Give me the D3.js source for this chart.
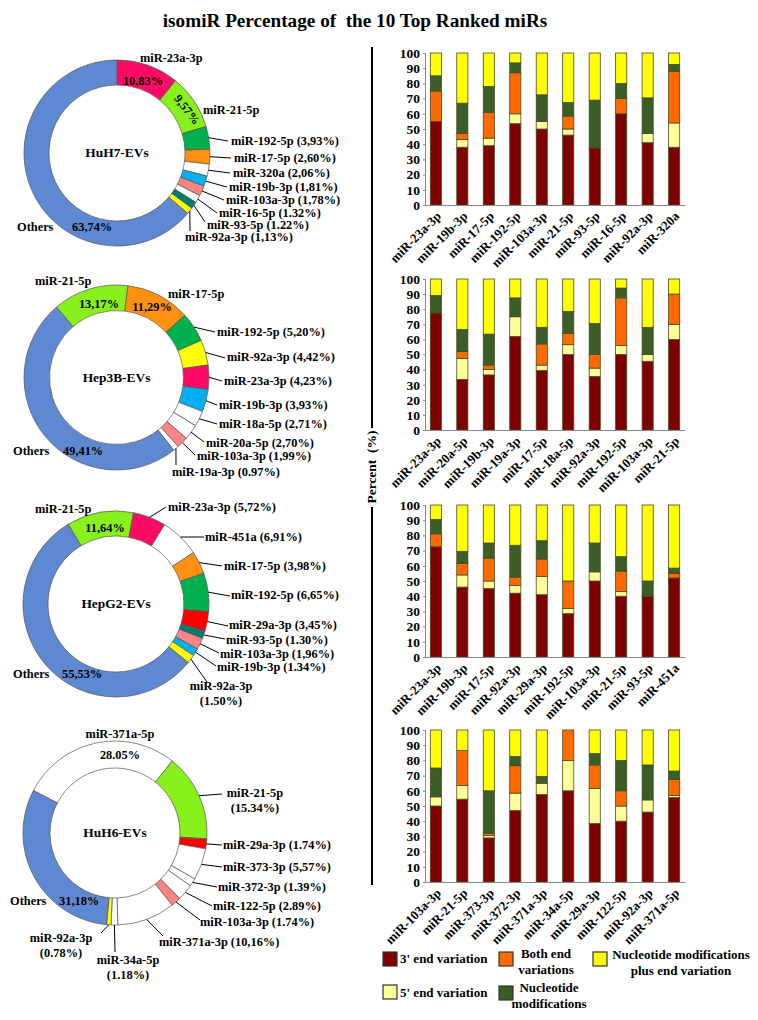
<!DOCTYPE html>
<html><head><meta charset="utf-8">
<script src="https://cdn.jsdelivr.net/npm/d3@7"></script>
<style>
body{margin:0;background:#fff}
svg text{font-family:"Liberation Serif","Times New Roman",serif;font-weight:bold;fill:#000}
</style>
</head><body>
<svg id="c" width="758" height="1020"></svg>
<script>
// ---------------- DATA ----------------
// Donut data (percent of reads)
const huh7Names  = ["miR-23a-3p","miR-21-5p","miR-192-5p","miR-17-5p","miR-320a","miR-19b-3p","miR-103a-3p","miR-16-5p","miR-93-5p","miR-92a-3p","Others"];
const huh7Values = [10.83,9.57,3.93,2.60,2.06,1.81,1.78,1.32,1.22,1.13,63.74];
const huh7Pct    = ["10,83%","9,57%","3,93%","2,60%","2,06%","1,81%","1,78%","1.32%","1.22%","1,13%","63,74%"];

const hep3bNames  = ["miR-17-5p","miR-192-5p","miR-92a-3p","miR-23a-3p","miR-19b-3p","miR-18a-5p","miR-20a-5p","miR-103a-3p","miR-19a-3p","Others","miR-21-5p"];
const hep3bValues = [11.29,5.20,4.42,4.23,3.93,2.71,2.70,1.99,0.97,49.41,13.17];
const hep3bPct    = ["11,29%","5,20%","4,42%","4,23%","3,93%","2,71%","2,70%","1,99%","0.97%","49,41%","13,17%"];

const hepg2Names  = ["miR-21-5p","miR-23a-3p","miR-451a","miR-17-5p","miR-192-5p","miR-29a-3p","miR-93-5p","miR-103a-3p","miR-19b-3p","miR-92a-3p","Others"];
const hepg2Values = [11.64,5.72,6.91,3.98,6.65,3.45,1.30,1.96,1.34,1.50,55.53];
const hepg2Pct    = ["11,64%","5,72%","6,91%","3,98%","6,65%","3,45%","1.30%","1,96%","1.34%","1.50%","55,53%"];

const huh6Names  = ["miR-371a-5p","miR-21-5p","miR-29a-3p","miR-373-3p","miR-372-3p","miR-122-5p","miR-103a-3p","miR-371a-3p","miR-34a-5p","miR-92a-3p","Others"];
const huh6Values = [28.05,15.34,1.74,5.57,1.39,2.89,1.74,10.16,1.18,0.78,31.18];
const huh6Pct    = ["28.05%","15.34%","1.74%","5,57%","1.39%","2.89%","1.74%","10,16%","1.18%","0.78%","31,18%"];

// Stacked bar data (percent of isomiRs)
const seriesNames = ["3' end variation","5' end variation","Both end variations","Nucleotide modifications","Nucleotide modifications plus end variation"];

const huh7BarCats = ["miR-23a-3p","miR-19b-3p","miR-17-5p","miR-192-5p","miR-103a-3p","miR-21-5p","miR-93-5p","miR-16-5p","miR-92a-3p","miR-320a"];
const huh7End3   = [55,38,39,53.5,50,46,37.5,60,41,38];
const huh7End5   = [0,5,5,6.5,5,4,0,0,6,16];
const huh7Both   = [20,4,17,27,0,8.5,0,10,0,34];
const huh7Nuc    = [10,20,17,6.5,17.5,9,31.5,10,23.5,4.5];
const huh7NucEnd = [15,33,22,6.5,27.5,32.5,31,20,29.5,7.5];

const hep3bBarCats = ["miR-23a-3p","miR-20a-5p","miR-19b-3p","miR-19a-3p","miR-17-5p","miR-18a-5p","miR-92a-3p","miR-192-5p","miR-103a-3p","miR-21-5p"];
const hep3bEnd3   = [77.5,33.5,36.5,62,39.5,50,35.5,50,45.5,60];
const hep3bEnd5   = [0,14,3.5,13,3.5,6.5,5.5,6,4.5,10];
const hep3bBoth   = [0,4.5,3,0,14,7.5,9,31.5,0,20];
const hep3bNuc    = [11.5,14.5,20.5,12.5,11,14.5,20.5,6.5,18,0];
const hep3bNucEnd = [11,33.5,36.5,12.5,32,21.5,29.5,6,32,10];

const hepg2BarCats = ["miR-23a-3p","miR-19b-3p","miR-17-5p","miR-92a-3p","miR-29a-3p","miR-192-5p","miR-103a-3p","miR-21-5p","miR-93-5p","miR-451a"];
const hepg2End3   = [72.5,46,45,42,41,28.5,50,40,40,52];
const hepg2End5   = [0,8,5,5,12,3.5,6,3,0,0];
const hepg2Both   = [8.5,7.5,15,5.5,11.5,18,0,13.5,0,3];
const hepg2Nuc    = [9.5,8,10,21,12,0,19,9.5,10,3.5];
const hepg2NucEnd = [9.5,30.5,25,26.5,23.5,50,25,34,50,41.5];

const huh6BarCats = ["miR-103a-3p","miR-21-5p","miR-373-3p","miR-372-3p","miR-371a-3p","miR-34a-5p","miR-29a-3p","miR-122-5p","miR-92a-3p","miR-371a-5p"];
const huh6End3   = [50,54.5,29,47,57.5,60,38.5,40,46,55.5];
const huh6End5   = [6,9,1.5,11.5,7.5,20,23,10,8,1.5];
const huh6Both   = [0,23,1.5,18,0,20,15.5,10,0,10.5];
const huh6Nuc    = [19,0,28,6,4.5,0,7.5,20,23,5.5];
const huh6NucEnd = [25,13.5,40,17.5,30.5,0,15.5,20,23,27];

const yTicks = [0,10,20,30,40,50,60,70,80,90,100];

// ---------------- STYLE / LAYOUT ----------------
const sliceColors = {"miR-23a-3p":"#fc0a66","miR-21-5p":"#88f11c","miR-192-5p":"#00b04e","miR-17-5p":"#ff9010",
  "miR-19b-3p":"#00b0f0","miR-103a-3p":"#ff8585","miR-93-5p":"#007c72","miR-92a-3p":"#ffff00",
  "miR-29a-3p":"#ff0000","Others":"#5f88d2"};
const seriesColors = ["#7f0000","#ffff9a","#ff6a00","#3a5e26","#ffff00"];

const svg = d3.select("#c");
const FS = 12;

// calibrate label width: reference "miR-192-5p (3,93%)" spans ~108px
const cal = svg.append("text").style("font-size",FS+"px").text("miR-192-5p (3,93%)");
let SX = 108/cal.node().getComputedTextLength();
if(!isFinite(SX)||SX<0.6||SX>1.2) SX = 1;
cal.remove();

// title
svg.append("text").attr("x",355).attr("y",27).attr("text-anchor","middle")
  .style("font-size","19.2px").style("white-space","pre").text("isomiR Percentage of  the 10 Top Ranked miRs");

// ---------- donuts ----------
function donut(cfg){
  const g = svg.append("g");
  const pie = d3.pie().sort(null).value(d=>d)
     .startAngle(cfg.start*Math.PI/180).endAngle(cfg.start*Math.PI/180+2*Math.PI);
  const arcs = pie(cfg.values);
  const arc = d3.arc().innerRadius(cfg.r).outerRadius(cfg.R);
  g.selectAll("path").data(arcs).join("path")
    .attr("transform",`translate(${cfg.cx},${cfg.cy})`)
    .attr("d",arc)
    .attr("fill",(d,i)=>sliceColors[cfg.names[i]]||"#ffffff")
    .attr("stroke","#555").attr("stroke-width",0.7);
  g.append("text").attr("transform",`translate(${cfg.cx},${cfg.cy+4}) scale(${SX},1)`).attr("text-anchor","middle")
    .style("font-size","13px").text(cfg.title);
  cfg.labels.forEach(l=>{
    const a = arcs[l.i];
    if(l.lx!==undefined){
      const m = (a.startAngle+a.endAngle)/2;
      g.append("line")
        .attr("x1",cfg.cx+cfg.R*Math.sin(m)).attr("y1",cfg.cy-cfg.R*Math.cos(m))
        .attr("x2",l.lx).attr("y2",l.ly).attr("stroke","#000").attr("stroke-width",1);
    }
    const txt = l.text(cfg);
    const t = g.append("text").attr("text-anchor",l.anchor||"start").style("font-size",FS+"px")
      .attr("transform",`translate(${l.x},${l.y}) rotate(${l.rot||0}) scale(${SX},1)`);
    if(Array.isArray(txt)){
      txt.forEach((s,k)=>t.append("tspan").attr("x",0).attr("y",k*15.5).text(s));
    } else t.text(txt);
  });
}
const nm = i=>c=>c.names[i];
const pc = i=>c=>c.pct[i];
const full = i=>c=>`${c.names[i]} (${c.pct[i]})`;
const two = i=>c=>[c.names[i],`(${c.pct[i]})`];

donut({cx:117,cy:153,R:93,r:68,start:0,title:"HuH7-EVs",names:huh7Names,values:huh7Values,pct:huh7Pct,
  labels:[
   {i:0,text:nm(0),x:140,y:62},
   {i:0,text:pc(0),x:143,y:85,anchor:"middle"},
   {i:1,text:pc(1),x:184,y:112,anchor:"middle",rot:52},
   {i:1,text:nm(1),x:203,y:114},
   {i:2,text:full(2),x:231,y:145,lx:228,ly:141},
   {i:3,text:full(3),x:234,y:162,lx:231,ly:158},
   {i:4,text:full(4),x:233,y:177,lx:230,ly:173},
   {i:5,text:full(5),x:229,y:191,lx:227,ly:187},
   {i:6,text:full(6),x:226,y:204,lx:224,ly:200},
   {i:7,text:full(7),x:219,y:216.5,lx:217,ly:213},
   {i:8,text:full(8),x:207,y:228.5,lx:205,ly:222},
   {i:9,text:full(9),x:185,y:241,lx:190,ly:231},
   {i:10,text:nm(10),x:17,y:231},
   {i:10,text:pc(10),x:72,y:231}
  ]});

donut({cx:116.5,cy:377.5,R:92.5,r:67,start:7,title:"Hep3B-EVs",names:hep3bNames,values:hep3bValues,pct:hep3bPct,
  labels:[
   {i:10,text:nm(10),x:35,y:285},
   {i:0,text:nm(0),x:168,y:298},
   {i:10,text:pc(10),x:99,y:308,anchor:"middle"},
   {i:0,text:pc(0),x:152,y:311,anchor:"middle"},
   {i:1,text:full(1),x:217,y:336,lx:215,ly:332},
   {i:2,text:full(2),x:227,y:361,lx:225,ly:358},
   {i:3,text:full(3),x:224,y:385,lx:222,ly:381},
   {i:4,text:full(4),x:219,y:409,lx:217,ly:405},
   {i:5,text:full(5),x:219,y:428,lx:217,ly:424},
   {i:6,text:full(6),x:206,y:447,lx:204,ly:442},
   {i:7,text:full(7),x:197,y:460,lx:195,ly:455},
   {i:8,text:full(8),x:172,y:476,lx:176,ly:465},
   {i:9,text:nm(9),x:13,y:455},
   {i:9,text:pc(9),x:63,y:455}
  ]});

donut({cx:116,cy:604,R:93,r:68,start:-31,title:"HepG2-EVs",names:hepg2Names,values:hepg2Values,pct:hepg2Pct,
  labels:[
   {i:0,text:nm(0),x:35,y:513},
   {i:0,text:pc(0),x:105,y:532,anchor:"middle"},
   {i:1,text:full(1),x:168,y:511,lx:166,ly:507},
   {i:2,text:full(2),x:205,y:541,lx:204,ly:537},
   {i:3,text:full(3),x:224,y:570,lx:222,ly:566},
   {i:4,text:full(4),x:231,y:599,lx:230,ly:596},
   {i:5,text:full(5),x:229,y:629,lx:228,ly:626},
   {i:6,text:full(6),x:226,y:644,lx:225,ly:639},
   {i:7,text:full(7),x:220,y:658,lx:219,ly:653},
   {i:8,text:full(8),x:217,y:671,lx:216,ly:666},
   {i:9,text:two(9),x:221,y:690,anchor:"middle",lx:207,ly:682},
   {i:10,text:nm(10),x:13,y:678},
   {i:10,text:pc(10),x:62,y:678}
  ]});

donut({cx:115,cy:833,R:92,r:65,start:-62.5,title:"HuH6-EVs",names:huh6Names,values:huh6Values,pct:huh6Pct,
  labels:[
   {i:0,text:nm(0),x:120,y:738,anchor:"middle"},
   {i:0,text:pc(0),x:120,y:759,anchor:"middle"},
   {i:1,text:two(1),x:255,y:797,anchor:"middle",lx:222,ly:794},
   {i:2,text:full(2),x:223,y:849,lx:222,ly:845},
   {i:3,text:full(3),x:223,y:871,lx:222,ly:867},
   {i:4,text:full(4),x:218,y:891,lx:217,ly:887},
   {i:5,text:full(5),x:213,y:910,lx:212,ly:906},
   {i:6,text:full(6),x:200,y:926,lx:200,ly:920},
   {i:7,text:full(7),x:159,y:946,lx:163,ly:936},
   {i:8,text:two(8),x:128,y:964,anchor:"middle",lx:115,ly:952},
   {i:9,text:two(9),x:61,y:942,anchor:"middle",lx:101,ly:933},
   {i:10,text:nm(10),x:10,y:905},
   {i:10,text:pc(10),x:59,y:905}
  ]});

// ---------- separator line + y label ----------
svg.append("line").attr("x1",372).attr("x2",372).attr("y1",47).attr("y2",428).attr("stroke","#000").attr("stroke-width",2);
svg.append("line").attr("x1",372).attr("x2",372).attr("y1",507).attr("y2",885).attr("stroke","#000").attr("stroke-width",2);
svg.append("text").attr("transform","translate(376,467) rotate(-90)").attr("text-anchor","middle")
  .style("font-size","13.5px").style("white-space","pre").text("Percent  (%)");

// ---------- stacked bars ----------
function bars(cats, cols, y0, y100){
  const rows = cats.map((c,i)=>({cat:c, s0:cols[0][i], s1:cols[1][i], s2:cols[2][i], s3:cols[3][i], s4:cols[4][i]}));
  const stack = d3.stack().keys(["s0","s1","s2","s3","s4"])(rows);
  const x = d3.scaleBand().domain(cats).range([425,685]).paddingInner(0.58).paddingOuter(0.2);
  const y = d3.scaleLinear().domain([0,100]).range([y0,y100]);
  const g = svg.append("g");
  stack.forEach((layer,k)=>{
    g.selectAll(null).data(layer.filter(d=>d[1]-d[0]>0)).join("rect")
      .attr("x",d=>x(d.data.cat)).attr("width",x.bandwidth())
      .attr("y",d=>y(d[1])).attr("height",d=>y(d[0])-y(d[1]))
      .attr("fill",seriesColors[k]).attr("stroke","#4a4a22").attr("stroke-width",0.8);
  });
  const ya = g.append("g").attr("transform","translate(425,0)")
    .call(d3.axisLeft(y).tickValues(yTicks).tickSize(2).tickPadding(3));
  ya.select(".domain").attr("stroke","#888");
  ya.selectAll(".tick line").attr("stroke","#888");
  ya.selectAll("text").style("font-size","13.5px").style("font-family","Liberation Serif, serif").style("font-weight","bold");
  const xa = g.append("g").attr("transform",`translate(0,${y0})`)
    .call(d3.axisBottom(x).tickSize(0).tickPadding(3).tickSizeOuter(0));
  xa.select(".domain").attr("stroke","#888").attr("stroke-width",1.2);
  xa.selectAll("text").style("font-size","13px").style("font-family","Liberation Serif, serif").style("font-weight","bold")
    .attr("text-anchor","end").attr("y",0).attr("dy",0)
    .attr("transform","translate(6,12) rotate(-45)");
}
bars(huh7BarCats,[huh7End3,huh7End5,huh7Both,huh7Nuc,huh7NucEnd],205,53);
bars(hep3bBarCats,[hep3bEnd3,hep3bEnd5,hep3bBoth,hep3bNuc,hep3bNucEnd],430,279);
bars(hepg2BarCats,[hepg2End3,hepg2End5,hepg2Both,hepg2Nuc,hepg2NucEnd],657,505);
bars(huh6BarCats,[huh6End3,huh6End5,huh6Both,huh6Nuc,huh6NucEnd],882,730);

// ---------- legend ----------
const legendItems = [
  {k:0,x:383,y:952,lines:["3' end variation"],tx:400,ty:963,anchor:"start"},
  {k:1,x:383,y:985,lines:["5' end variation"],tx:400,ty:997,anchor:"start"},
  {k:2,x:499,y:952,lines:["Both end","variations"],tx:546,ty:958,anchor:"middle"},
  {k:3,x:499,y:986,lines:["Nucleotide","modifications"],tx:549,ty:992,anchor:"middle"},
  {k:4,x:593,y:952,lines:["Nucleotide modifications","plus end variation"],tx:681,ty:959,anchor:"middle"}
];
const lg = svg.append("g");
legendItems.forEach(it=>{
  lg.append("rect").attr("x",it.x).attr("y",it.y).attr("width",14).attr("height",14)
    .attr("fill",seriesColors[it.k]).attr("stroke","#333").attr("stroke-width",1.2);
  const t = lg.append("text").attr("text-anchor",it.anchor).style("font-size","13px");
  it.lines.forEach((s,j)=>t.append("tspan").attr("x",it.tx).attr("y",it.ty+j*16).text(s));
});
</script>
</body></html>
